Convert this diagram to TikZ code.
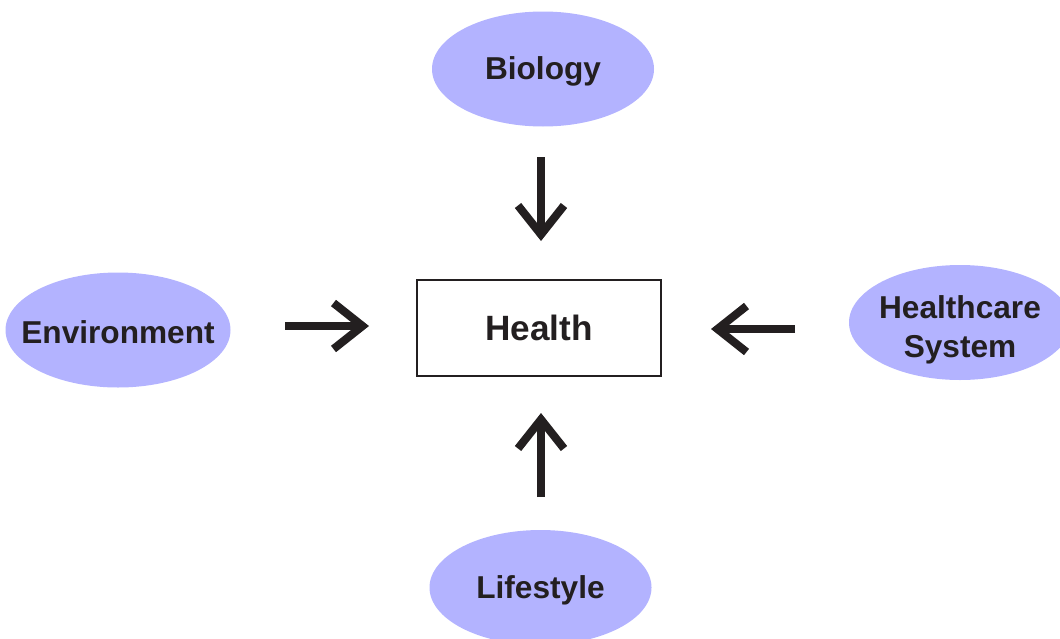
\documentclass[tikz,border=0pt]{standalone}
\usepackage{fontspec}
\setmainfont{Liberation Sans}
\usetikzlibrary{arrows.meta,shapes.geometric}
\definecolor{lavend}{RGB}{179,179,255}
\definecolor{ink}{RGB}{35,31,32}
\tikzset{factor/.style={ellipse,fill=lavend,minimum width=4.44cm,minimum height=2.3cm,inner sep=0pt},
	ftext/.style={align=center,font=\fontsize{18}{22}\selectfont\bfseries,text=ink,inner sep=0pt,yshift=-0.05cm},
	hbox/.style={draw=ink,line width=1.1pt,minimum width=4.88cm,minimum height=1.92cm,font=\fontsize{20}{22}\selectfont\bfseries,text=ink},
	flow/.style={draw=ink,line width=4.6pt,-{Straight Barb[length=0.58cm,width=0.92cm]}}}
\begin{document}
\begin{tikzpicture}
	\useasboundingbox (0,0) rectangle (21.2,-12.76);
	\node[hbox] (health) at (10.78,-6.56) {Health};
	\node[factor,label={[ftext]center:Biology}] (bio) at (10.86,-1.38) {};
	\node[factor,minimum width=4.5cm,label={[ftext]center:Environment}] (env) at (2.36,-6.6) {};
	\node[factor,label={[ftext,yshift=-0.1cm]center:Healthcare\\System}] (care) at (19.2,-6.45) {};
	\node[factor,label={[ftext]center:Lifestyle}] (life) at (10.81,-11.75) {};
	\coordinate (b1) at (10.82,-3.14); \coordinate (b2) at (10.82,-4.82);
	\coordinate (e1) at (5.7,-6.52); \coordinate (e2) at (7.38,-6.52);
	\coordinate (c1) at (15.9,-6.58); \coordinate (c2) at (14.22,-6.58);
	\coordinate (l1) at (10.82,-9.94); \coordinate (l2) at (10.82,-8.26);
	\draw[flow] (b1)--(b2);
	\draw[flow] (e1)--(e2);
	\draw[flow] (c1)--(c2);
	\draw[flow] (l1)--(l2);
\end{tikzpicture}
\end{document}
